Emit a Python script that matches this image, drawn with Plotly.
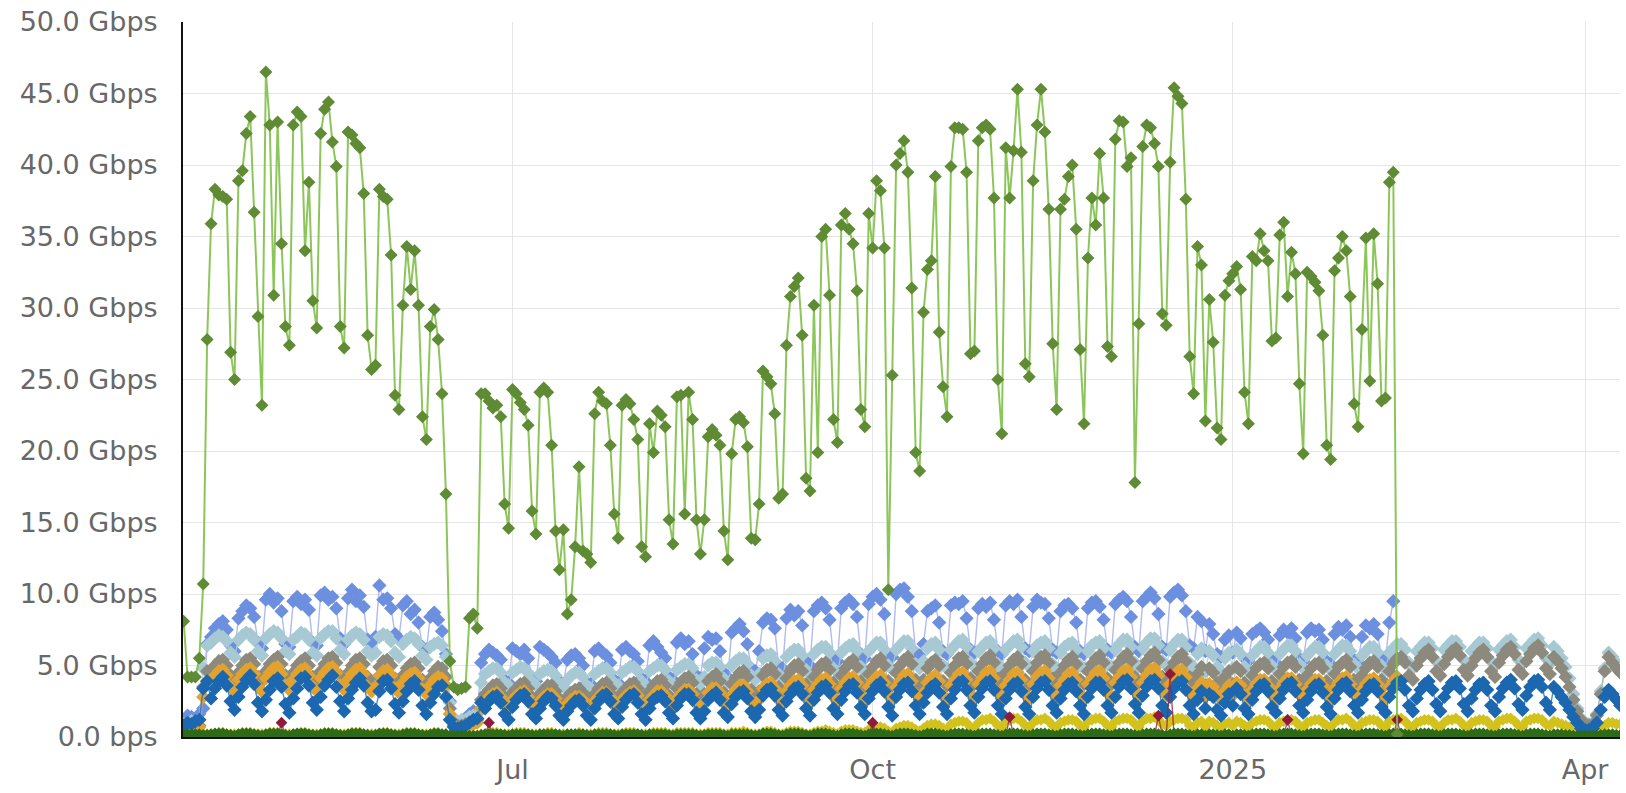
import pandas as pd
import plotly.graph_objects as go

# Daily samples start Monday 2024-04-08
start_date = "2024-04-08"
n_days = 368

# Main (light green) series, Gbps, one value per day
green = [
 8.1, 4.2, 4.2, 4.2, 5.5, 10.7, 27.8,
 35.9, 38.3, 37.9, 37.8, 37.6, 26.9, 25.0,
 38.9, 39.6, 42.2, 43.4, 36.7, 29.4, 23.2,
 46.5, 42.8, 30.9, 43.0, 34.5, 28.7, 27.4,
 42.8, 43.7, 43.4, 34.0, 38.8, 30.5, 28.6,
 42.2, 43.9, 44.4, 41.6, 39.9, 28.7, 27.2,
 42.3, 42.1, 41.5, 41.2, 38.0, 28.1, 25.7,
 26.0, 38.3, 37.8, 37.6, 33.7, 23.9, 22.9,
 30.2, 34.3, 31.3, 34.0, 30.2, 22.4, 20.8,
 28.7, 29.9, 27.8, 24.0, 17.0, 5.3, 3.5,
 3.3, 3.4, 3.5, 8.3, 8.6, 7.6, 24.0,
 24.0, 23.5, 23.0, 23.2, 22.4, 16.3, 14.6,
 24.3, 24.0, 23.4, 22.9, 21.8, 15.8, 14.2,
 24.1, 24.4, 24.1, 20.4, 14.4, 11.7, 14.5,
 8.6, 9.6, 13.3, 18.9, 13.0, 12.8, 12.2,
 22.6, 24.1, 23.5, 23.3, 20.4, 15.6, 13.9,
 23.2, 23.6, 23.3, 22.2, 20.8, 13.3, 12.6,
 21.9, 19.9, 22.8, 22.5, 21.7, 15.2, 13.5,
 23.8, 23.9, 15.6, 24.1, 22.2, 15.2, 12.8,
 15.2, 21.0, 21.5, 21.1, 20.4, 14.4, 12.4,
 19.8, 22.2, 22.4, 22.0, 20.3, 13.9, 13.8,
 16.3, 25.6, 25.2, 24.7, 22.6, 16.7, 17.0,
 27.4, 30.8, 31.5, 32.1, 28.1, 18.1, 17.2,
 30.2, 19.9, 35.0, 35.5, 30.9, 22.2, 20.6,
 35.8, 36.6, 35.5, 34.5, 31.2, 22.9, 21.7,
 36.6, 34.2, 38.9, 38.2, 34.2, 10.3, 25.3,
 40.0, 40.8, 41.7, 39.5, 31.4, 19.9, 18.6,
 29.7, 32.7, 33.3, 39.2, 28.3, 24.5, 22.4,
 39.9, 42.6, 42.6, 42.5, 39.5, 26.8, 27.0,
 41.7, 42.6, 42.8, 42.5, 37.7, 25.0, 21.2,
 41.2, 37.7, 41.0, 45.3, 40.9, 26.1, 25.2,
 38.9, 42.8, 45.3, 42.3, 36.9, 27.5, 22.9,
 36.9, 37.6, 39.2, 40.0, 35.5, 27.1, 21.9,
 33.5, 37.7, 35.8, 40.8, 37.7, 27.3, 26.6,
 41.8, 43.1, 43.0, 39.9, 40.5, 17.8, 28.9,
 41.3, 42.8, 42.6, 41.5, 39.9, 29.6, 28.8,
 40.2, 45.4, 44.8, 44.3, 37.6, 26.6, 24.0,
 34.3, 33.0, 22.1, 30.6, 27.6, 21.6, 20.8,
 30.9, 31.9, 32.4, 32.9, 31.3, 24.1, 21.9,
 33.6, 33.3, 35.2, 34.0, 33.3, 27.7, 27.9,
 35.1, 36.0, 30.8, 33.9, 32.4, 24.7, 19.8,
 32.5, 32.2, 31.8, 31.2, 28.1, 20.4, 19.4,
 32.6, 33.5, 35.0, 34.0, 30.8, 23.3, 21.7,
 28.5, 34.9, 24.9, 35.2, 31.7, 23.5, 23.7,
 38.8, 39.5, 0.2,
]

cornflower = [
 1.2, 1.5, 1.4, 1.3, 1.6, 2.0, 6.5,
 7.0, 7.6, 7.9, 8.1, 7.5, 6.4, 6.0,
 8.3, 8.8, 9.2, 9.0, 8.4, 6.6, 6.2,
 9.6, 10.0, 9.4, 9.7, 8.8, 6.5, 6.3,
 9.5, 9.8, 9.3, 9.6, 8.9, 6.6, 6.4,
 9.9, 10.1, 9.6, 9.8, 9.0, 6.9, 6.5,
 9.7, 10.3, 9.5, 9.9, 9.1, 6.8, 6.6,
 7.0, 10.6, 9.6, 9.7, 9.0, 7.2, 6.9,
 9.2, 9.5, 8.6, 8.9, 8.0, 6.3, 6.1,
 8.4, 8.7, 8.2, 7.4, 5.8, 2.5, 1.2,
 1.0, 1.1, 1.2, 1.6, 1.8, 1.7, 5.2,
 5.8, 6.1, 5.9, 5.7, 5.4, 4.0, 3.8,
 6.2, 6.0, 5.8, 6.1, 5.5, 4.1, 3.9,
 6.3, 6.1, 5.9, 5.6, 5.2, 3.9, 3.7,
 5.4, 5.7, 5.8, 5.5, 5.0, 3.8, 3.7,
 6.0, 6.2, 5.9, 5.7, 5.2, 4.0, 3.8,
 6.1, 6.3, 6.0, 5.8, 5.3, 4.1, 3.9,
 6.4, 6.7, 6.3, 5.9, 5.5, 4.2, 4.0,
 6.6, 6.9, 6.5, 6.7, 5.8, 4.3, 4.1,
 6.2, 7.0, 6.8, 6.9, 6.0, 4.5, 4.2,
 7.3, 7.6, 7.9, 7.4, 6.5, 4.8, 4.6,
 6.0, 8.0, 8.3, 8.2, 7.6, 5.0, 4.8,
 8.3, 8.9, 8.5, 8.8, 7.8, 5.3, 5.0,
 8.8, 9.2, 9.4, 9.0, 8.2, 5.6, 5.3,
 9.0, 9.4, 9.6, 9.3, 8.4, 5.8, 5.5,
 9.3, 9.8, 10.0, 9.6, 8.6, 5.7, 5.6,
 10.0, 10.3, 10.4, 9.8, 8.8, 5.9, 5.7,
 6.5, 8.8, 9.0, 9.2, 8.0, 6.0, 5.8,
 9.2, 9.4, 9.3, 9.5, 8.3, 6.1, 5.9,
 9.0, 9.3, 9.1, 9.4, 8.2, 6.0, 5.8,
 9.2, 9.5, 9.3, 9.6, 8.4, 6.2, 6.0,
 9.1, 9.6, 9.4, 9.3, 8.3, 6.1, 5.9,
 8.8, 9.2, 9.3, 9.0, 8.0, 6.0, 5.8,
 9.0, 9.4, 9.5, 9.1, 8.2, 6.1, 5.9,
 9.3, 9.6, 9.8, 9.5, 8.4, 6.3, 6.0,
 9.5, 9.8, 10.1, 9.7, 8.6, 6.3, 6.1,
 9.8, 10.1, 10.3, 9.9, 8.8, 6.4, 6.2,
 8.4, 8.1, 6.0, 7.9, 7.2, 5.8, 5.6,
 6.8, 7.1, 5.9, 7.3, 6.9, 5.5, 5.3,
 7.2, 7.4, 7.6, 7.3, 6.8, 5.4, 5.2,
 7.1, 7.5, 7.3, 7.6, 6.9, 5.5, 5.3,
 7.3, 7.6, 7.4, 7.5, 6.8, 5.3, 5.1,
 7.2, 7.7, 7.5, 7.8, 7.0, 5.4, 5.2,
 7.0, 7.8, 7.6, 7.9, 7.2, 5.6, 5.4,
 8.0, 9.5,
]

light_cyan = [
 0.9, 1.0, 1.1, 1.0, 1.2, 4.8, 6.4,
 6.6, 6.9, 7.1, 7.0, 6.7, 5.9, 5.6,
 6.8, 7.1, 7.3, 7.2, 6.8, 6.0, 5.7,
 6.9, 7.2, 7.4, 7.3, 6.9, 6.0, 5.8,
 6.8, 7.0, 7.3, 7.2, 6.8, 5.9, 5.7,
 6.9, 7.2, 7.4, 7.4, 6.9, 6.1, 5.8,
 6.8, 7.1, 7.3, 7.2, 6.8, 6.0, 5.7,
 5.9, 7.0, 7.2, 7.1, 6.7, 5.9, 5.6,
 6.5, 6.8, 7.0, 6.9, 6.5, 5.7, 5.4,
 6.3, 6.5, 6.6, 6.4, 5.6, 2.4, 1.3,
 1.1, 1.2, 1.2, 1.4, 1.5, 1.6, 3.8,
 4.4, 4.6, 4.8, 4.8, 4.5, 3.8, 3.6,
 4.5, 4.7, 4.9, 4.8, 4.5, 3.9, 3.6,
 4.4, 4.6, 4.7, 4.6, 4.3, 3.7, 3.5,
 4.0, 4.3, 4.5, 4.5, 4.2, 3.6, 3.4,
 4.4, 4.6, 4.8, 4.8, 4.5, 3.8, 3.6,
 4.5, 4.7, 4.9, 4.9, 4.6, 3.9, 3.6,
 4.6, 4.8, 5.0, 5.0, 4.7, 3.9, 3.7,
 4.7, 4.9, 5.1, 5.1, 4.8, 4.0, 3.7,
 4.2, 5.0, 5.2, 5.2, 4.9, 4.1, 3.8,
 5.0, 5.3, 5.5, 5.5, 5.1, 4.3, 4.0,
 4.4, 5.5, 5.7, 5.8, 5.3, 4.4, 4.1,
 5.6, 5.9, 6.1, 6.1, 5.7, 4.7, 4.4,
 5.8, 6.1, 6.3, 6.3, 5.9, 4.8, 4.5,
 5.9, 6.2, 6.4, 6.5, 6.0, 4.9, 4.6,
 6.0, 6.3, 6.6, 6.6, 6.1, 5.0, 4.7,
 6.1, 6.4, 6.7, 6.7, 6.2, 5.1, 4.8,
 5.3, 6.2, 6.5, 6.6, 6.1, 5.0, 4.8,
 6.1, 6.4, 6.7, 6.8, 6.3, 5.2, 4.9,
 6.0, 6.3, 6.6, 6.7, 6.2, 5.1, 4.8,
 6.1, 6.4, 6.7, 6.8, 6.3, 5.2, 4.9,
 6.0, 6.4, 6.6, 6.7, 6.2, 5.1, 4.8,
 5.9, 6.3, 6.5, 6.6, 6.1, 5.0, 4.8,
 6.0, 6.4, 6.6, 6.7, 6.2, 5.1, 4.9,
 6.1, 6.5, 6.8, 6.8, 6.3, 5.2, 4.9,
 6.2, 6.6, 6.9, 6.9, 6.4, 5.3, 5.0,
 6.1, 6.5, 6.8, 6.8, 6.3, 5.2, 4.9,
 5.8, 6.2, 4.6, 6.0, 5.7, 4.9, 4.6,
 5.5, 5.9, 4.8, 6.1, 5.8, 4.9, 4.6,
 5.7, 6.0, 6.3, 6.3, 5.9, 5.0, 4.7,
 5.8, 6.1, 6.4, 6.4, 6.0, 5.1, 4.8,
 5.7, 6.0, 6.3, 6.3, 5.9, 5.0, 4.7,
 5.8, 6.1, 6.4, 6.4, 6.0, 5.1, 4.8,
 5.7, 6.0, 6.3, 6.3, 5.9, 5.0, 4.7,
 5.9, 6.2, 6.5, 6.5, 6.1, 5.2, 4.9,
 6.0, 6.3, 6.6, 6.6, 6.2, 5.3, 5.0,
 6.1, 6.4, 6.7, 6.7, 6.3, 5.4, 5.0,
 6.0, 6.3, 6.6, 6.6, 6.2, 5.3, 5.0,
 6.1, 6.4, 6.7, 6.8, 6.3, 5.4, 5.1,
 6.2, 6.5, 6.8, 6.9, 6.4, 5.5, 5.1,
 6.3, 6.0, 5.5, 4.9, 4.1, 3.0, 2.0,
 1.3, 1.0, 0.9, 1.0,
 1.6, 3.2, 4.8, 5.9, 5.6, 5.2, 4.9,
]

grey = [
 0.5, 0.6, 0.6, 0.7, 0.8, 3.5, 4.6,
 4.6, 5.0, 5.3, 5.4, 5.0, 4.3, 4.0,
 4.5, 5.0, 5.4, 5.5, 5.1, 4.2, 3.9,
 4.6, 5.1, 5.4, 5.6, 5.1, 4.3, 4.0,
 4.5, 5.0, 5.3, 5.5, 5.0, 4.2, 3.9,
 4.6, 5.1, 5.5, 5.6, 5.2, 4.3, 4.0,
 4.5, 5.0, 5.4, 5.5, 5.1, 4.2, 3.9,
 4.0, 4.9, 5.3, 5.4, 5.0, 4.1, 3.8,
 4.3, 4.8, 5.1, 5.2, 4.8, 4.0, 3.7,
 4.1, 4.6, 4.9, 4.8, 4.2, 2.0, 1.0,
 0.8, 0.8, 0.9, 1.0, 1.1, 1.2, 2.6,
 3.0, 3.3, 3.6, 3.7, 3.4, 2.8, 2.5,
 3.1, 3.4, 3.7, 3.8, 3.4, 2.8, 2.6,
 3.0, 3.3, 3.6, 3.6, 3.2, 2.7, 2.5,
 2.8, 3.1, 3.3, 3.4, 3.1, 2.6, 2.4,
 3.0, 3.4, 3.7, 3.8, 3.4, 2.8, 2.5,
 3.1, 3.4, 3.7, 3.8, 3.4, 2.8, 2.6,
 3.2, 3.6, 3.9, 4.0, 3.6, 2.9, 2.6,
 3.4, 3.8, 4.1, 4.2, 3.8, 3.0, 2.7,
 3.0, 3.9, 4.2, 4.4, 3.9, 3.1, 2.8,
 3.7, 4.1, 4.5, 4.6, 4.2, 3.3, 3.0,
 3.2, 4.3, 4.7, 4.8, 4.4, 3.5, 3.2,
 4.1, 4.6, 5.0, 5.1, 4.6, 3.7, 3.3,
 4.2, 4.7, 5.1, 5.2, 4.7, 3.8, 3.4,
 4.3, 4.8, 5.2, 5.4, 4.9, 3.9, 3.5,
 4.4, 4.9, 5.3, 5.5, 5.0, 3.9, 3.6,
 4.5, 5.0, 5.4, 5.6, 5.1, 4.0, 3.6,
 4.0, 4.8, 5.2, 5.4, 5.0, 3.9, 3.6,
 4.5, 5.0, 5.5, 5.6, 5.1, 4.1, 3.7,
 4.6, 5.1, 5.5, 5.7, 5.2, 4.1, 3.7,
 4.5, 5.0, 5.4, 5.6, 5.1, 4.0, 3.6,
 4.6, 5.2, 5.6, 5.7, 5.2, 4.1, 3.7,
 4.5, 5.0, 5.4, 5.6, 5.1, 4.0, 3.7,
 4.6, 5.1, 5.5, 5.7, 5.2, 4.1, 3.7,
 4.7, 5.2, 5.6, 5.8, 5.3, 4.2, 3.8,
 4.8, 5.3, 5.7, 5.9, 5.4, 4.2, 3.8,
 4.7, 5.2, 5.6, 5.8, 5.3, 4.2, 3.8,
 4.4, 4.9, 3.6, 4.8, 4.5, 3.8, 3.5,
 4.2, 4.6, 3.7, 4.9, 4.6, 3.8, 3.5,
 4.3, 4.8, 5.1, 5.2, 4.8, 3.9, 3.6,
 4.4, 4.9, 5.2, 5.3, 4.9, 4.0, 3.6,
 4.3, 4.8, 5.1, 5.2, 4.8, 3.9, 3.6,
 4.4, 4.9, 5.2, 5.4, 4.9, 4.0, 3.7,
 4.3, 4.8, 5.2, 5.3, 4.9, 4.0, 3.7,
 4.6, 5.1, 5.5, 5.6, 5.2, 4.3, 4.0,
 5.0, 5.5, 5.9, 6.1, 5.6, 4.6, 4.3,
 5.1, 5.6, 6.0, 6.2, 5.7, 4.7, 4.3,
 5.0, 5.5, 5.9, 6.1, 5.6, 4.6, 4.2,
 5.2, 5.7, 6.1, 6.3, 5.8, 4.7, 4.4,
 5.3, 5.8, 6.2, 6.4, 5.9, 4.8, 4.4,
 5.6, 5.3, 4.8, 4.2, 3.5, 2.6, 1.8,
 1.2, 0.9, 0.8, 0.9,
 1.5, 3.0, 4.6, 5.6, 5.2, 4.8, 4.5,
]

orange = [
 0.4, 0.5, 0.5, 0.6, 0.7, 2.8, 3.9,
 3.9, 4.3, 4.6, 4.7, 4.3, 3.5, 3.2,
 4.0, 4.4, 4.7, 4.8, 4.4, 3.5, 3.2,
 4.1, 4.5, 4.8, 4.9, 4.4, 3.6, 3.3,
 4.0, 4.4, 4.7, 4.8, 4.3, 3.5, 3.2,
 4.1, 4.5, 4.8, 4.9, 4.5, 3.6, 3.3,
 4.0, 4.4, 4.7, 4.8, 4.4, 3.5, 3.2,
 3.5, 4.3, 4.6, 4.7, 4.3, 3.4, 3.1,
 3.8, 4.2, 4.4, 4.5, 4.1, 3.3, 3.0,
 3.6, 4.0, 4.2, 4.1, 3.6, 1.6, 0.8,
 0.6, 0.6, 0.7, 0.8, 0.9, 1.0, 2.0,
 2.5, 2.8, 3.0, 3.1, 2.8, 2.2, 2.0,
 2.6, 2.9, 3.1, 3.2, 2.8, 2.2, 2.0,
 2.5, 2.8, 3.0, 3.0, 2.7, 2.1, 1.9,
 2.3, 2.6, 2.8, 2.8, 2.6, 2.0, 1.9,
 2.5, 2.8, 3.1, 3.1, 2.8, 2.2, 2.0,
 2.6, 2.9, 3.1, 3.2, 2.9, 2.2, 2.0,
 2.6, 2.9, 3.2, 3.2, 2.9, 2.3, 2.0,
 2.7, 3.0, 3.3, 3.3, 3.0, 2.3, 2.1,
 2.4, 3.1, 3.4, 3.4, 3.1, 2.4, 2.1,
 2.9, 3.3, 3.6, 3.6, 3.2, 2.5, 2.2,
 2.6, 3.4, 3.7, 3.8, 3.4, 2.6, 2.3,
 3.2, 3.6, 3.9, 4.0, 3.6, 2.7, 2.4,
 3.3, 3.7, 4.0, 4.1, 3.7, 2.8, 2.5,
 3.4, 3.8, 4.1, 4.2, 3.8, 2.9, 2.5,
 3.5, 3.9, 4.2, 4.3, 3.8, 2.9, 2.6,
 3.5, 3.9, 4.3, 4.4, 3.9, 3.0, 2.6,
 3.1, 3.8, 4.1, 4.3, 3.9, 2.9, 2.6,
 3.6, 4.0, 4.4, 4.5, 4.0, 3.0, 2.7,
 3.7, 4.1, 4.5, 4.6, 4.1, 3.1, 2.7,
 3.6, 4.0, 4.4, 4.5, 4.0, 3.0, 2.7,
 3.7, 4.2, 4.5, 4.6, 4.1, 3.1, 2.8,
 3.6, 4.0, 4.4, 4.5, 4.0, 3.0, 2.7,
 3.7, 4.1, 4.5, 4.6, 4.1, 3.1, 2.8,
 3.8, 4.2, 4.6, 4.7, 4.2, 3.2, 2.8,
 3.8, 4.3, 4.7, 4.8, 4.3, 3.2, 2.9,
 3.7, 4.2, 4.6, 4.7, 4.2, 3.1, 2.8,
 3.4, 3.8, 2.8, 3.7, 3.5, 2.9, 2.6,
 3.2, 3.6, 2.9, 3.8, 3.6, 2.9, 2.6,
 3.3, 3.7, 4.0, 4.0, 3.6, 2.9, 2.7,
 3.4, 3.8, 4.1, 4.1, 3.7, 3.0, 2.7,
 3.3, 3.7, 4.0, 4.0, 3.6, 2.9, 2.6,
 3.4, 3.8, 4.1, 4.2, 3.7, 3.0, 2.7,
 3.3, 3.7, 4.0, 4.1, 3.7, 3.0, 2.7,
 3.5, 3.9, 4.2,
]

dark_blue = [
 0.8, 1.0, 0.9, 1.1, 1.2, 3.4, 3.9,
 2.7, 3.4, 3.9, 4.2, 3.6, 2.5, 1.9,
 2.8, 3.5, 4.0, 4.3, 3.7, 2.4, 1.8,
 2.6, 3.3, 3.9, 4.1, 3.5, 2.3, 1.7,
 2.7, 3.4, 4.1, 4.2, 3.6, 2.4, 1.9,
 2.8, 3.6, 4.0, 4.3, 3.5, 2.5, 1.8,
 2.7, 3.3, 3.8, 4.1, 3.6, 2.4, 1.8,
 1.9, 3.2, 3.9, 4.0, 3.4, 2.3, 1.7,
 2.5, 3.2, 3.7, 3.9, 3.3, 2.2, 1.6,
 2.4, 3.0, 3.5, 3.6, 2.8, 1.2, 0.7,
 0.6, 0.7, 0.8, 1.0, 1.2, 1.3, 2.4,
 2.0, 2.5, 2.8, 2.9, 2.4, 1.6, 1.2,
 2.1, 2.6, 2.9, 3.0, 2.5, 1.6, 1.3,
 2.0, 2.5, 2.8, 2.7, 2.2, 1.5, 1.2,
 1.8, 2.2, 2.5, 2.6, 2.2, 1.5, 1.2,
 2.0, 2.5, 2.9, 3.0, 2.5, 1.6, 1.3,
 2.1, 2.6, 2.9, 3.0, 2.4, 1.6, 1.2,
 2.0, 2.6, 2.8, 2.9, 2.5, 1.7, 1.3,
 2.2, 2.7, 3.0, 3.0, 2.6, 1.7, 1.3,
 1.8, 2.6, 2.9, 3.1, 2.6, 1.7, 1.4,
 2.3, 2.8, 3.1, 3.2, 2.7, 1.8, 1.4,
 1.9, 2.9, 3.3, 3.4, 2.9, 1.9, 1.5,
 2.5, 3.0, 3.4, 3.5, 3.0, 2.0, 1.5,
 2.6, 3.1, 3.5, 3.6, 3.1, 2.0, 1.6,
 2.6, 3.2, 3.6, 3.7, 3.1, 2.1, 1.6,
 2.7, 3.2, 3.6, 3.8, 3.2, 2.1, 1.5,
 2.8, 3.3, 3.7, 3.8, 3.2, 2.2, 1.6,
 2.4, 3.1, 3.5, 3.7, 3.1, 2.1, 1.6,
 2.7, 3.3, 3.8, 3.9, 3.3, 2.2, 1.7,
 2.8, 3.4, 3.8, 3.9, 3.3, 2.2, 1.6,
 2.7, 3.3, 3.7, 3.8, 3.2, 2.1, 1.6,
 2.8, 3.4, 3.8, 3.9, 3.3, 2.2, 1.7,
 2.7, 3.3, 3.7, 3.8, 3.2, 2.2, 1.6,
 2.8, 3.4, 3.8, 3.8, 3.3, 2.2, 1.7,
 2.8, 3.5, 3.9, 4.0, 3.4, 2.3, 1.7,
 2.9, 3.5, 3.9, 4.0, 3.4, 2.2, 1.7,
 2.8, 3.4, 3.8, 3.9, 3.3, 2.2, 1.6,
 2.6, 3.2, 2.0, 3.0, 2.8, 1.9, 1.5,
 2.4, 3.0, 2.2, 3.4, 3.0, 2.0, 1.6,
 2.6, 3.2, 3.6, 3.7, 3.2, 2.1, 1.7,
 2.7, 3.3, 3.7, 3.8, 3.2, 2.2, 1.7,
 2.6, 3.2, 3.6, 3.7, 3.1, 2.1, 1.6,
 2.7, 3.3, 3.7, 3.8, 3.2, 2.2, 1.7,
 2.6, 3.2, 3.6, 3.7, 3.2, 2.1, 1.7,
 2.8, 3.4, 3.8, 3.9, 3.3, 2.2, 1.8,
 2.7, 3.3, 3.7, 3.9, 3.3, 2.3, 1.8,
 2.8, 3.4, 3.8, 3.9, 3.4, 2.3, 1.8,
 2.7, 3.3, 3.7, 3.8, 3.3, 2.2, 1.8,
 2.8, 3.4, 3.8, 4.0, 3.4, 2.3, 1.9,
 2.9, 3.5, 3.9, 4.0, 3.5, 2.4, 1.9,
 3.5, 3.2, 2.8, 2.4, 1.9, 1.4, 1.0,
 0.6, 0.5, 0.5, 0.6,
 1.0, 1.9, 2.8, 3.3, 3.0, 2.6, 2.2,
]

yellow = [
 0.1, 0.1, 0.1, 0.1, 0.1, 0.2, 0.2,
 0.2, 0.2, 0.3, 0.3, 0.2, 0.2, 0.2,
 0.2, 0.3, 0.3, 0.3, 0.2, 0.2, 0.2,
 0.2, 0.3, 0.3, 0.3, 0.2, 0.2, 0.2,
 0.2, 0.2, 0.3, 0.3, 0.2, 0.2, 0.2,
 0.2, 0.3, 0.3, 0.3, 0.2, 0.2, 0.2,
 0.2, 0.3, 0.3, 0.3, 0.2, 0.2, 0.2,
 0.2, 0.2, 0.3, 0.3, 0.2, 0.2, 0.2,
 0.2, 0.3, 0.3, 0.3, 0.2, 0.2, 0.2,
 0.2, 0.3, 0.3, 0.2, 0.2, 0.1, 0.1,
 0.1, 0.1, 0.1, 0.1, 0.1, 0.1, 0.2,
 0.2, 0.3, 0.3, 0.3, 0.2, 0.2, 0.2,
 0.2, 0.3, 0.3, 0.3, 0.2, 0.2, 0.2,
 0.2, 0.2, 0.3, 0.3, 0.2, 0.2, 0.2,
 0.2, 0.2, 0.2, 0.3, 0.2, 0.2, 0.2,
 0.2, 0.3, 0.3, 0.3, 0.2, 0.2, 0.2,
 0.2, 0.3, 0.3, 0.3, 0.2, 0.2, 0.2,
 0.2, 0.3, 0.3, 0.3, 0.3, 0.2, 0.2,
 0.3, 0.3, 0.3, 0.3, 0.3, 0.2, 0.2,
 0.2, 0.3, 0.3, 0.3, 0.3, 0.2, 0.2,
 0.3, 0.3, 0.3, 0.4, 0.3, 0.2, 0.2,
 0.2, 0.3, 0.4, 0.4, 0.3, 0.2, 0.2,
 0.3, 0.4, 0.4, 0.4, 0.3, 0.2, 0.2,
 0.3, 0.4, 0.4, 0.5, 0.4, 0.3, 0.2,
 0.4, 0.5, 0.5, 0.5, 0.4, 0.3, 0.3,
 0.5, 0.6, 0.6, 0.7, 0.6, 0.4, 0.3,
 0.6, 0.7, 0.8, 0.8, 0.7, 0.5, 0.4,
 0.6, 0.8, 0.9, 0.9, 0.8, 0.6, 0.5,
 0.9, 1.0, 1.1, 1.1, 1.0, 0.7, 0.6,
 1.0, 1.2, 1.2, 1.3, 1.1, 0.8, 0.7,
 1.1, 1.2, 1.3, 1.3, 1.1, 0.8, 0.7,
 1.0, 1.2, 1.2, 1.3, 1.1, 0.8, 0.7,
 1.0, 1.1, 1.2, 1.2, 1.1, 0.8, 0.7,
 1.1, 1.2, 1.3, 1.3, 1.1, 0.8, 0.7,
 1.1, 1.2, 1.3, 1.3, 1.2, 0.9, 0.7,
 1.1, 1.3, 1.3, 1.4, 1.2, 0.9, 0.8,
 1.1, 1.2, 1.3, 1.3, 1.2, 0.8, 0.7,
 1.0, 1.1, 0.7, 1.1, 1.0, 0.8, 0.7,
 0.9, 1.0, 0.8, 1.1, 1.0, 0.8, 0.7,
 1.0, 1.1, 1.2, 1.2, 1.1, 0.8, 0.7,
 1.0, 1.1, 1.2, 1.2, 1.1, 0.8, 0.7,
 1.0, 1.1, 1.2, 1.2, 1.0, 0.8, 0.7,
 1.0, 1.2, 1.2, 1.3, 1.1, 0.8, 0.7,
 1.0, 1.1, 1.2, 1.2, 1.1, 0.8, 0.7,
 1.1, 1.2, 1.3, 1.3, 1.1, 0.8, 0.7,
 1.0, 1.1, 1.2, 1.2, 1.1, 0.8, 0.7,
 1.0, 1.2, 1.2, 1.3, 1.1, 0.8, 0.7,
 1.0, 1.1, 1.2, 1.2, 1.1, 0.8, 0.7,
 1.1, 1.2, 1.3, 1.3, 1.1, 0.8, 0.7,
 1.1, 1.2, 1.3, 1.3, 1.2, 0.9, 0.8,
 1.1, 1.0, 0.9, 0.8, 0.7, 0.5, 0.4,
 0.3, 0.2, 0.2, 0.2,
 0.3, 0.5, 0.8, 1.0, 1.0, 0.9, 0.9,
]

dark_red = [
 0.05, 0.05, 0.05, 0.05, 0.05, 0.05, 0.05,
 0.05, 0.05, 0.05, 0.05, 0.05, 0.05, 0.05,
 0.05, 0.05, 0.05, 0.05, 0.05, 0.05, 0.05,
 0.05, 0.05, 0.05, 0.05, 1.0, 0.05, 0.05,
 0.05, 0.05, 0.05, 0.05, 0.05, 0.05, 0.05,
 0.05, 0.05, 0.05, 0.05, 0.05, 0.05, 0.05,
 0.05, 0.05, 0.05, 0.05, 0.05, 0.05, 0.05,
 0.05, 0.05, 0.05, 0.05, 0.05, 0.05, 0.05,
 0.05, 0.05, 0.05, 0.05, 0.05, 0.05, 0.05,
 0.05, 0.05, 0.05, 0.05, 0.05, 0.05, 0.05,
 0.05, 0.05, 0.05, 0.05, 0.05, 0.05, 0.05,
 0.05, 1.0, 0.05, 0.05, 0.05, 0.05, 0.05,
 0.05, 0.05, 0.05, 0.05, 0.05, 0.05, 0.05,
 0.05, 0.05, 0.05, 0.05, 0.05, 0.05, 0.05,
 0.05, 0.05, 0.05, 0.05, 0.05, 0.05, 0.05,
 0.05, 0.05, 0.05, 0.05, 0.05, 0.05, 0.05,
 0.05, 0.05, 0.05, 0.05, 0.05, 0.05, 0.05,
 0.05, 0.05, 0.05, 0.05, 0.05, 0.05, 0.05,
 0.05, 0.05, 0.05, 0.05, 0.05, 0.05, 0.05,
 0.05, 0.05, 0.05, 0.05, 0.05, 0.05, 0.05,
 0.05, 0.05, 0.05, 0.05, 0.05, 0.05, 0.05,
 0.05, 0.05, 0.05, 0.05, 0.05, 0.05, 0.05,
 0.05, 0.05, 0.05, 0.05, 0.05, 0.05, 0.05,
 0.05, 0.05, 0.05, 0.05, 0.05, 0.05, 0.05,
 0.05, 0.05, 0.05, 0.05, 0.05, 0.05, 0.05,
 0.05, 1.0, 0.05, 0.05, 0.05, 0.05, 0.05,
 0.05, 0.05, 0.05, 0.05, 0.05, 0.05, 0.05,
 0.05, 0.05, 0.05, 0.05, 0.05, 0.05, 0.05,
 0.05, 0.05, 0.05, 0.05, 0.05, 0.05, 0.05,
 0.05, 0.05, 0.05, 0.05, 0.05, 0.05, 0.05,
 0.05, 1.4, 0.05, 0.05, 0.05, 0.05, 0.05,
 0.05, 0.05, 0.05, 0.05, 0.05, 0.05, 0.05,
 0.05, 0.05, 0.05, 0.05, 0.05, 0.05, 0.05,
 0.05, 0.05, 0.05, 0.05, 0.05, 0.05, 0.05,
 0.05, 0.05, 0.05, 0.05, 0.05, 0.05, 0.05,
 0.05, 0.05, 0.05, 0.05, 1.5, 0.05, 0.05,
 4.4, 0.05, 0.05, 0.05, 0.05, 0.05, 0.05,
 0.05, 0.05, 0.05, 0.05, 0.05, 0.05, 0.05,
 0.05, 0.05, 0.05, 0.05, 0.05, 0.05, 0.05,
 0.05, 0.05, 0.05, 0.05, 0.05, 0.05, 0.05,
 0.05, 0.05, 1.2, 0.05, 0.05, 0.05, 0.05,
 0.05, 0.05, 0.05, 0.05, 0.05, 0.05, 0.05,
 0.05, 0.05, 0.05, 0.05, 0.05, 0.05, 0.05,
 0.05, 0.05, 0.05, 0.05, 0.05, 0.05, 0.05,
 0.05, 0.05, 1.2, 0.05, 0.05, 0.05, 0.05,
 0.05, 0.05, 0.05, 0.05, 0.05, 0.05, 0.05,
 0.05, 0.05, 0.05, 0.05, 0.05, 0.05, 0.05,
 0.05, 0.05, 0.05, 0.05, 0.05, 0.05, 0.05,
 0.05, 0.05, 0.05, 0.05, 0.05, 0.05, 0.05,
 0.05, 0.05, 0.05, 0.05, 0.05, 0.05, 0.05,
 0.05, 0.05, 0.05, 0.05, 0.05, 0.05, 0.05,
]

dark_green = [
 0.15, 0.2, 0.2, 0.2, 0.2, 0.15, 0.15,
 0.2, 0.25, 0.25, 0.25, 0.2, 0.15, 0.1,
 0.2, 0.25, 0.25, 0.25, 0.2, 0.15, 0.1,
 0.2, 0.25, 0.25, 0.25, 0.2, 0.15, 0.1,
 0.2, 0.25, 0.25, 0.25, 0.2, 0.15, 0.1,
 0.2, 0.25, 0.25, 0.25, 0.2, 0.15, 0.1,
 0.2, 0.25, 0.25, 0.25, 0.2, 0.15, 0.1,
 0.15, 0.25, 0.25, 0.25, 0.2, 0.15, 0.1,
 0.2, 0.25, 0.25, 0.25, 0.2, 0.15, 0.1,
 0.2, 0.25, 0.25, 0.2, 0.2, 0.1, 0.1,
 0.1, 0.1, 0.1, 0.1, 0.1, 0.1, 0.15,
 0.2, 0.2, 0.2, 0.2, 0.2, 0.15, 0.1,
 0.2, 0.2, 0.2, 0.2, 0.2, 0.15, 0.1,
 0.2, 0.2, 0.2, 0.2, 0.2, 0.15, 0.1,
 0.2, 0.2, 0.2, 0.2, 0.2, 0.15, 0.1,
 0.2, 0.2, 0.2, 0.2, 0.2, 0.15, 0.1,
 0.2, 0.2, 0.2, 0.2, 0.2, 0.15, 0.1,
 0.2, 0.2, 0.2, 0.2, 0.2, 0.15, 0.1,
 0.2, 0.2, 0.2, 0.2, 0.2, 0.15, 0.1,
 0.15, 0.2, 0.2, 0.2, 0.2, 0.15, 0.1,
 0.2, 0.2, 0.2, 0.2, 0.2, 0.15, 0.1,
 0.15, 0.25, 0.25, 0.25, 0.2, 0.15, 0.1,
 0.2, 0.25, 0.25, 0.25, 0.2, 0.15, 0.1,
 0.2, 0.25, 0.25, 0.25, 0.2, 0.15, 0.1,
 0.2, 0.25, 0.25, 0.25, 0.2, 0.15, 0.1,
 0.2, 0.25, 0.25, 0.25, 0.2, 0.15, 0.1,
 0.2, 0.25, 0.25, 0.25, 0.2, 0.15, 0.1,
 0.15, 0.25, 0.25, 0.25, 0.2, 0.15, 0.1,
 0.2, 0.25, 0.25, 0.25, 0.2, 0.15, 0.1,
 0.2, 0.25, 0.25, 0.25, 0.2, 0.15, 0.1,
 0.2, 0.25, 0.25, 0.25, 0.2, 0.15, 0.1,
 0.2, 0.25, 0.25, 0.25, 0.2, 0.15, 0.1,
 0.2, 0.25, 0.25, 0.25, 0.2, 0.15, 0.1,
 0.2, 0.25, 0.25, 0.25, 0.2, 0.15, 0.1,
 0.2, 0.25, 0.25, 0.25, 0.2, 0.15, 0.1,
 0.2, 0.25, 0.25, 0.25, 0.2, 0.15, 0.1,
 0.2, 0.25, 0.25, 0.25, 0.2, 0.15, 0.1,
 0.2, 0.2, 0.1, 0.2, 0.2, 0.15, 0.1,
 0.2, 0.2, 0.1, 0.2, 0.2, 0.15, 0.1,
 0.2, 0.25, 0.25, 0.25, 0.2, 0.15, 0.1,
 0.2, 0.25, 0.25, 0.25, 0.2, 0.15, 0.1,
 0.2, 0.25, 0.25, 0.25, 0.2, 0.15, 0.1,
 0.2, 0.25, 0.25, 0.25, 0.2, 0.15, 0.1,
 0.2, 0.25, 0.25, 0.25, 0.2, 0.15, 0.1,
 0.2, 0.25, 0.25, 0.25, 0.2, 0.15, 0.1,
 0.2, 0.25, 0.25, 0.25, 0.2, 0.15, 0.1,
 0.2, 0.25, 0.25, 0.25, 0.2, 0.15, 0.1,
 0.2, 0.25, 0.25, 0.25, 0.2, 0.15, 0.1,
 0.2, 0.25, 0.25, 0.25, 0.2, 0.15, 0.1,
 0.2, 0.25, 0.25, 0.25, 0.2, 0.15, 0.1,
 0.2, 0.2, 0.2, 0.15, 0.15, 0.1, 0.1,
 0.1, 0.1, 0.1, 0.1,
 0.1, 0.15, 0.2, 0.2, 0.2, 0.15, 0.15,
]

# Axis labels
y_tick_values = [0, 5, 10, 15, 20, 25, 30, 35, 40, 45, 50]
y_tick_labels = ["0.0 bps", "5.0 Gbps", "10.0 Gbps", "15.0 Gbps", "20.0 Gbps",
                 "25.0 Gbps", "30.0 Gbps", "35.0 Gbps", "40.0 Gbps", "45.0 Gbps",
                 "50.0 Gbps"]
x_tick_values = ["2024-07-01", "2024-10-01", "2025-01-01", "2025-04-01"]
x_tick_labels = ["Jul", "Oct", "2025", "Apr"]

dates = pd.date_range(start_date, periods=n_days, freq="D")

series = [
    # values, marker colour, line colour, marker size, line width
    (cornflower, "#6c8fe0", "rgba(155,170,238,0.8)", 11, 1.4),
    (light_cyan, "#a6c9d4", "rgba(175,208,218,0.8)", 11, 1.4),
    (grey, "#8d8a7d", "rgba(160,155,140,0.6)", 11, 1.4),
    (orange, "#e2a22f", "rgba(230,175,70,0.6)", 11, 1.4),
    (yellow, "#d3c21c", "rgba(215,200,40,0.7)", 9, 1.4),
    (dark_blue, "#1b67b0", "rgba(45,115,185,0.85)", 11, 1.4),
    (dark_red, "#8e1b3c", "rgba(150,40,70,0.8)", 9, 1.4),
    (dark_green, "#2d6b17", "rgba(45,107,23,1)", 9, 2),
    (green, "#5e8b33", "rgba(128,192,72,0.9)", 10, 2),
]

fig = go.Figure()
for vals, mcol, lcol, msize, lw in series:
    fig.add_trace(go.Scatter(
        x=dates[:len(vals)], y=vals, mode="lines+markers",
        line=dict(color=lcol, width=lw),
        marker=dict(symbol="diamond", size=msize, color=mcol, line=dict(width=0)),
        showlegend=False, hoverinfo="skip",
    ))

tick_font = dict(family="DejaVu Sans", size=27, color="#686868")

fig.update_layout(
    width=1626, height=793,
    margin=dict(l=183, r=6, t=17, b=56),
    paper_bgcolor="white", plot_bgcolor="white",
    showlegend=False,
)
fig.update_yaxes(
    range=[0, 50], tickmode="array", tickvals=y_tick_values, ticktext=y_tick_labels,
    tickfont=tick_font, showgrid=True, gridcolor="#e6e6e6", gridwidth=1,
    zeroline=False, showline=True, linecolor="#111111", linewidth=2,
    ticks="", ticklabelstandoff=18,
)
fig.update_xaxes(
    type="date", range=["2024-04-07 20:00", "2025-04-09 22:00"],
    tickmode="array", tickvals=x_tick_values, ticktext=x_tick_labels,
    tickfont=tick_font, showgrid=True, gridcolor="#e6e6e6", gridwidth=1,
    zeroline=False, showline=True, linecolor="#111111", linewidth=2,
    ticks="", ticklabelstandoff=8,
)

fig.write_html(
    "out.html",
    config={"displayModeBar": False},
    post_script="document.body.style.margin='0';document.body.style.overflow='hidden';",
)
